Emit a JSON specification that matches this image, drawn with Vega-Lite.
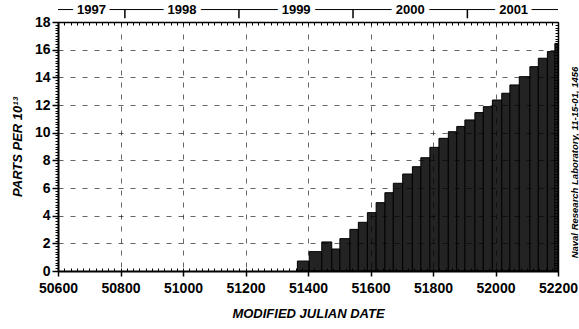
{
  "$schema": "https://vega.github.io/schema/vega-lite/v6.json",
  "width": 500,
  "height": 249,
  "autosize": {"type": "none"},
  "padding": {"left": 58, "top": 22, "right": 21, "bottom": 58},
  "background": "white",
  "config": {
    "view": {"stroke": null},
    "axis": {"labelFont": "Liberation Sans", "titleFont": "Liberation Sans", "domainColor": "#000", "tickColor": "#000", "labelColor": "#000", "titleColor": "#000"}
  },
  "datasets": {
    "bars": [
      {"start": 51366, "end": 51404, "value": 0.72},
      {"start": 51404, "end": 51444, "value": 1.40},
      {"start": 51444, "end": 51476, "value": 2.10},
      {"start": 51476, "end": 51502, "value": 1.59},
      {"start": 51502, "end": 51534, "value": 2.34},
      {"start": 51534, "end": 51561, "value": 3.01},
      {"start": 51561, "end": 51590, "value": 3.52},
      {"start": 51590, "end": 51618, "value": 4.22},
      {"start": 51618, "end": 51646, "value": 4.94},
      {"start": 51646, "end": 51673, "value": 5.66},
      {"start": 51673, "end": 51703, "value": 6.34},
      {"start": 51703, "end": 51734, "value": 7.01},
      {"start": 51734, "end": 51761, "value": 7.54},
      {"start": 51761, "end": 51790, "value": 8.19},
      {"start": 51790, "end": 51819, "value": 8.94},
      {"start": 51819, "end": 51849, "value": 9.59},
      {"start": 51849, "end": 51876, "value": 10.07},
      {"start": 51876, "end": 51902, "value": 10.45},
      {"start": 51902, "end": 51934, "value": 10.92},
      {"start": 51934, "end": 51961, "value": 11.45},
      {"start": 51961, "end": 51990, "value": 11.88},
      {"start": 51990, "end": 52020, "value": 12.36},
      {"start": 52020, "end": 52046, "value": 12.85},
      {"start": 52046, "end": 52076, "value": 13.45},
      {"start": 52076, "end": 52110, "value": 14.05},
      {"start": 52110, "end": 52137, "value": 14.77},
      {"start": 52137, "end": 52166, "value": 15.38},
      {"start": 52166, "end": 52190, "value": 15.86},
      {"start": 52190, "end": 52200, "value": 16.45}
    ],
    "years": [
      {"year": "1997", "mid": 50707},
      {"year": "1998", "mid": 50997},
      {"year": "1999", "mid": 51362},
      {"year": "2000", "mid": 51727},
      {"year": "2001", "mid": 52058}
    ],
    "bounds": [
      {"boundary": 50814},
      {"boundary": 51179},
      {"boundary": 51544},
      {"boundary": 51910}
    ]
  },
  "layer": [
    {
      "data": {"name": "bars"},
      "mark": {"type": "bar", "fill": "#232323", "stroke": "#000", "strokeWidth": 1},
      "encoding": {
        "x": {
          "field": "start", "type": "quantitative",
          "scale": {"domain": [50600, 52200], "nice": false, "zero": false},
          "axis": {
            "orient": "bottom", "values": [50600, 50800, 51000, 51200, 51400, 51600, 51800, 52000, 52200],
            "format": "d", "tickSize": 5, "tickWidth": 1.5, "labelPadding": 5, "labelFontSize": 14, "labelFontWeight": "bold",
            "labelFlush": false, "labelOverlap": false, "domainWidth": 2,
            "grid": true, "gridDash": [5, 7], "gridColor": "#000", "gridOpacity": 0.6,
            "title": "MODIFIED JULIAN DATE", "titleFontSize": 13, "titleFontStyle": "italic", "titleFontWeight": "bold", "titlePadding": 12,
            "zindex": 1
          }
        },
        "x2": {"field": "end"},
        "y": {
          "field": "value", "type": "quantitative",
          "scale": {"domain": [0, 18], "nice": false},
          "axis": {
            "orient": "left", "values": [0, 2, 4, 6, 8, 10, 12, 14, 16, 18],
            "format": "d", "tickSize": 6, "tickWidth": 1.5, "labelPadding": 2, "labelFontSize": 14, "labelFontWeight": "bold",
            "labelFlush": false, "labelOverlap": false, "domainWidth": 2,
            "grid": true, "gridDash": [5, 7], "gridColor": "#000", "gridOpacity": 0.6,
            "title": "PARTS PER 10¹³", "titleFontSize": 13, "titleFontStyle": "italic", "titleFontWeight": "bold", "titlePadding": 10,
            "zindex": 1
          }
        },
        "y2": {"datum": 0}
      }
    },
    {
      "data": {"name": "bars"},
      "mark": {"type": "point", "opacity": 0},
      "encoding": {
        "x": {
          "field": "start", "type": "quantitative",
          "scale": {"domain": [50600, 52200], "nice": false, "zero": false},
          "axis": {
            "orient": "bottom", "values": [50600,50620,50640,50660,50680,50700,50720,50740,50760,50780,50800,50820,50840,50860,50880,50900,50920,50940,50960,50980,51000,51020,51040,51060,51080,51100,51120,51140,51160,51180,51200,51220,51240,51260,51280,51300,51320,51340,51360,51380,51400,51420,51440,51460,51480,51500,51520,51540,51560,51580,51600,51620,51640,51660,51680,51700,51720,51740,51760,51780,51800,51820,51840,51860,51880,51900,51920,51940,51960,51980,52000,52020,52040,52060,52080,52100,52120,52140,52160,52180,52200],
            "labels": false, "tickSize": -3, "tickWidth": 1, "domain": false, "grid": false, "title": null, "zindex": 1
          }
        },
        "y": {
          "field": "value", "type": "quantitative",
          "scale": {"domain": [0, 18], "nice": false},
          "axis": {
            "orient": "left", "values": [0,0.2,0.4,0.6,0.8,1,1.2,1.4,1.6,1.8,2,2.2,2.4,2.6,2.8,3,3.2,3.4,3.6,3.8,4,4.2,4.4,4.6,4.8,5,5.2,5.4,5.6,5.8,6,6.2,6.4,6.6,6.8,7,7.2,7.4,7.6,7.8,8,8.2,8.4,8.6,8.8,9,9.2,9.4,9.6,9.8,10,10.2,10.4,10.6,10.8,11,11.2,11.4,11.6,11.8,12,12.2,12.4,12.6,12.8,13,13.2,13.4,13.6,13.8,14,14.2,14.4,14.6,14.8,15,15.2,15.4,15.6,15.8,16,16.2,16.4,16.6,16.8,17,17.2,17.4,17.6,17.8,18],
            "labels": false, "tickSize": 3, "tickWidth": 1, "domain": false, "grid": false, "title": null, "zindex": 1
          }
        }
      }
    },
    {
      "data": {"name": "bars"},
      "mark": {"type": "point", "opacity": 0},
      "encoding": {
        "x": {
          "field": "start", "type": "quantitative",
          "scale": {"domain": [50600, 52200], "nice": false, "zero": false},
          "axis": {
            "orient": "top", "values": [50600,50620,50640,50660,50680,50700,50720,50740,50760,50780,50800,50820,50840,50860,50880,50900,50920,50940,50960,50980,51000,51020,51040,51060,51080,51100,51120,51140,51160,51180,51200,51220,51240,51260,51280,51300,51320,51340,51360,51380,51400,51420,51440,51460,51480,51500,51520,51540,51560,51580,51600,51620,51640,51660,51680,51700,51720,51740,51760,51780,51800,51820,51840,51860,51880,51900,51920,51940,51960,51980,52000,52020,52040,52060,52080,52100,52120,52140,52160,52180,52200],
            "labels": false, "tickSize": -3, "tickWidth": 1, "domain": true, "domainWidth": 1.5, "grid": false, "title": null, "zindex": 1
          }
        },
        "y": {
          "field": "value", "type": "quantitative",
          "scale": {"domain": [0, 18], "nice": false},
          "axis": {
            "orient": "right", "values": [0,0.2,0.4,0.6,0.8,1,1.2,1.4,1.6,1.8,2,2.2,2.4,2.6,2.8,3,3.2,3.4,3.6,3.8,4,4.2,4.4,4.6,4.8,5,5.2,5.4,5.6,5.8,6,6.2,6.4,6.6,6.8,7,7.2,7.4,7.6,7.8,8,8.2,8.4,8.6,8.8,9,9.2,9.4,9.6,9.8,10,10.2,10.4,10.6,10.8,11,11.2,11.4,11.6,11.8,12,12.2,12.4,12.6,12.8,13,13.2,13.4,13.6,13.8,14,14.2,14.4,14.6,14.8,15,15.2,15.4,15.6,15.8,16,16.2,16.4,16.6,16.8,17,17.2,17.4,17.6,17.8,18],
            "labels": false, "tickSize": -3, "tickWidth": 1, "domain": true, "domainWidth": 1.5, "grid": false,
            "title": "Naval Research Laboratory, 11-15-01, 1456", "titleAngle": 270, "titleX": 16, "titleY": 140,
            "titleAlign": "center", "titleBaseline": "middle", "titleFontSize": 9.5, "titleFontStyle": "italic", "titleFontWeight": "bold",
            "zindex": 1
          }
        }
      }
    },
    {
      "data": {"values": [{}]},
      "mark": {"type": "rule", "clip": false, "color": "#000", "strokeWidth": 1},
      "encoding": {
        "x": {"datum": 50600, "type": "quantitative", "scale": {"domain": [50600, 52200], "nice": false, "zero": false}, "axis": null},
        "x2": {"datum": 52200},
        "y": {"datum": 18.9, "type": "quantitative", "scale": {"domain": [0, 18], "nice": false}, "axis": null}
      }
    },
    {
      "data": {"name": "years"},
      "mark": {"type": "text", "clip": false, "font": "Liberation Sans", "fontSize": 13, "fontWeight": "bold", "baseline": "middle", "align": "center", "fill": "#fff", "stroke": "#fff", "strokeWidth": 10, "strokeJoin": "round"},
      "encoding": {
        "x": {"field": "mid", "type": "quantitative", "scale": {"domain": [50600, 52200], "nice": false, "zero": false}, "axis": null},
        "y": {"datum": 18.9, "type": "quantitative", "scale": {"domain": [0, 18], "nice": false}, "axis": null},
        "text": {"field": "year"}
      }
    },
    {
      "data": {"name": "years"},
      "mark": {"type": "text", "clip": false, "font": "Liberation Sans", "fontSize": 13, "fontWeight": "bold", "baseline": "middle", "align": "center", "fill": "#000"},
      "encoding": {
        "x": {"field": "mid", "type": "quantitative", "scale": {"domain": [50600, 52200], "nice": false, "zero": false}, "axis": null},
        "y": {"datum": 18.9, "type": "quantitative", "scale": {"domain": [0, 18], "nice": false}, "axis": null},
        "text": {"field": "year"}
      }
    },
    {
      "data": {"name": "bounds"},
      "mark": {"type": "rule", "clip": false, "color": "#000", "strokeWidth": 1.5},
      "encoding": {
        "x": {"field": "boundary", "type": "quantitative", "scale": {"domain": [50600, 52200], "nice": false, "zero": false}, "axis": null},
        "y": {"datum": 18.27, "type": "quantitative", "scale": {"domain": [0, 18], "nice": false}, "axis": null},
        "y2": {"datum": 18.9}
      }
    }
  ],
  "resolve": {"axis": {"x": "independent", "y": "independent"}}
}
